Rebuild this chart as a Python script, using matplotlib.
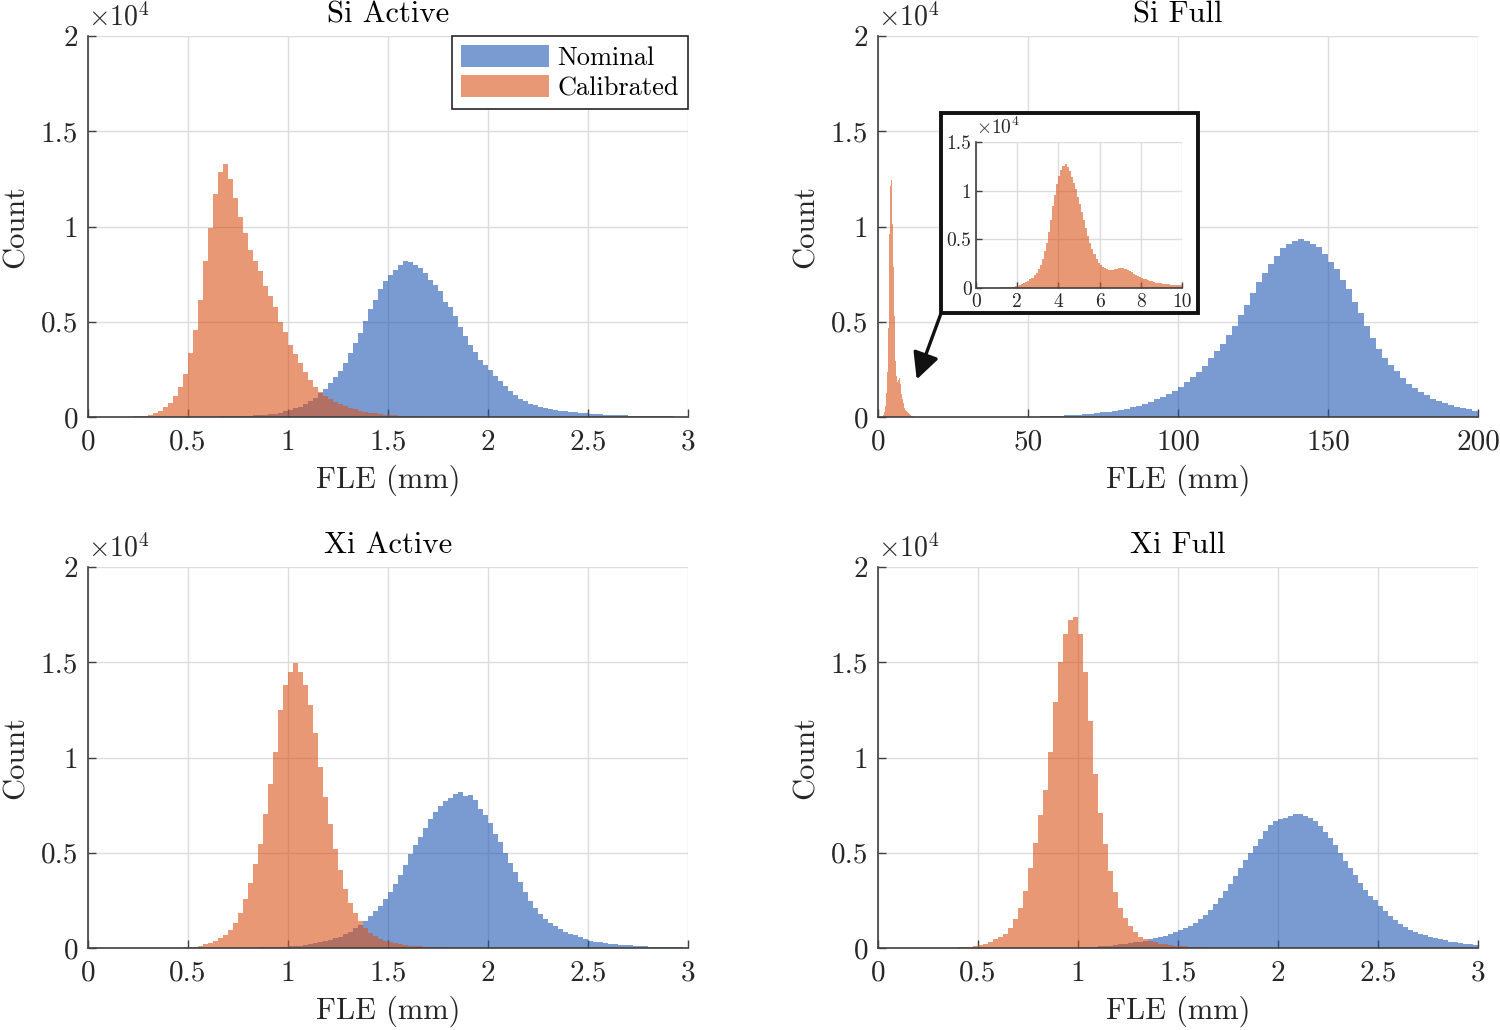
import numpy as np
import matplotlib
matplotlib.use("Agg")
import matplotlib.pyplot as plt
from matplotlib.ticker import FuncFormatter
from matplotlib.patches import Patch, Rectangle

plt.rcParams['font.family'] = ['cmr10', 'DejaVu Serif']
plt.rcParams['mathtext.fontset'] = 'cm'
plt.rcParams['axes.formatter.use_mathtext'] = True

# ---------------- data (bin counts) ----------------
titles = ["Si Active", "Si Full", "Xi Active", "Xi Full"]
legend_labels = ["Nominal", "Calibrated"]
x_label = "FLE (mm)"
y_label = "Count"

bin_w = 0.025

# Si Active
si_act_nom_start = 0.5
si_act_nom = [8, 10, 12, 15, 18, 22, 27, 32, 38, 44, 50, 58, 68, 80, 95, 115, 140, 175, 235, 300,
              370, 450, 550, 680, 830, 1020, 1250, 1460, 1800, 2120, 2400, 2850, 3350, 3880, 4420,
              5050, 5650, 6120, 6700, 7150, 7450, 7700, 8000, 8180, 8130, 8000, 7820, 7550, 7190,
              6950, 6600, 6050, 5750, 5300, 4700, 4250, 3790, 3400, 3000, 2750, 2450, 2130, 1900,
              1650, 1380, 1130, 960, 820, 700, 610, 530, 470, 420, 375, 340, 310, 280, 250, 220,
              190, 170, 155, 140, 125, 112, 100, 92, 85, 75, 68, 60, 54, 48, 42, 37, 33, 29, 25, 22, 19]
si_act_cal_start = 0.1
si_act_cal = [5, 8, 12, 18, 25, 35, 45, 60, 110, 200, 330, 520, 760, 1080, 1600, 2250, 3350, 4550,
              6150, 8200, 9900, 11700, 12850, 13300, 12500, 11500, 10500, 9650, 8750, 8200, 7650,
              6900, 6350, 5800, 5000, 4450, 3800, 3300, 2850, 2350, 1920, 1560, 1300, 1080, 930,
              790, 680, 580, 490, 410, 340, 280, 230, 190, 160, 130, 105, 85, 70, 55, 45, 35, 28,
              22, 17, 12, 9, 6]

# Xi Active
xi_act_nom_start = 0.8
xi_act_nom = [20, 25, 30, 36, 42, 48, 55, 65, 80, 100, 125, 160, 200, 245, 290, 350, 430, 510, 600,
              720, 860, 1040, 1200, 1420, 1680, 1950, 2220, 2570, 2950, 3360, 3830, 4380, 4950,
              5400, 5850, 6300, 6750, 7150, 7450, 7700, 7900, 8100, 8200, 8000, 8050, 7750, 7300,
              7000, 6550, 6000, 5550, 5000, 4450, 4000, 3450, 2950, 2450, 2080, 1780, 1540, 1320,
              1140, 990, 860, 750, 660, 570, 480, 390, 330, 290, 255, 225, 200, 180, 160, 140,
              120, 105, 90, 75, 62, 52, 45, 38, 32, 27, 22]
xi_act_cal_start = 0.4
xi_act_cal = [8, 14, 22, 30, 45, 70, 120, 190, 260, 360, 520, 700, 930, 1330, 1850, 2550, 3400,
              4400, 5450, 7050, 8600, 10300, 12500, 13800, 14500, 14950, 14500, 13800, 12750,
              11300, 9500, 7950, 6500, 5200, 4100, 3100, 2350, 1850, 1400, 1030, 800, 640, 490,
              390, 300, 240, 190, 155, 125, 100, 82, 68, 56, 46, 38, 32, 26, 20, 15, 10]

# Xi Full
xi_full_nom_start = 0.8
xi_full_nom = [5, 7, 9, 11, 13, 15, 18, 22, 28, 35, 45, 60, 80, 105, 130, 160, 190, 220, 255, 290,
               340, 390, 450, 510, 580, 650, 730, 820, 920, 1030, 1170, 1330, 1520, 1750, 2000,
               2300, 2630, 2980, 3380, 3800, 4180, 4600, 4980, 5380, 5730, 6120, 6450, 6660, 6780,
               6850, 6920, 7050, 7060, 6950, 6800, 6650, 6420, 6100, 5760, 5420, 4980, 4550, 4200,
               3830, 3430, 3020, 2750, 2510, 2220, 1950, 1680, 1450, 1270, 1100, 960, 840, 740,
               660, 590, 520, 460, 400, 340, 290, 240, 210, 185, 165]
xi_full_cal_start = 0.3
xi_full_cal = [5, 8, 12, 18, 28, 45, 70, 105, 160, 230, 330, 450, 580, 720, 1050, 1500, 2100, 3000,
               4200, 5500, 7000, 8300, 10300, 12900, 15000, 16500, 17200, 17350, 16500, 14500,
               11900, 9150, 7100, 5450, 4050, 2950, 2100, 1580, 1150, 850, 600, 450, 350, 290,
               235, 190, 160, 130, 105, 85, 70, 55, 42, 32, 24, 18, 14, 10]

# Si Full
si_full_nom_start = 40.0
si_full_nom_w = 2.0
si_full_nom = [5, 8, 10, 12, 15, 20, 25, 30, 40, 50, 65, 85, 105, 130, 155, 180, 215, 250, 280, 315,
               360, 420, 500, 580, 680, 800, 920, 1050, 1220, 1380, 1580, 1820, 2080, 2350, 2700,
               3080, 3450, 3850, 4300, 4800, 5350, 5900, 6500, 7100, 7550, 8050, 8450, 8850, 9100,
               9250, 9350, 9250, 9100, 8900, 8550, 8150, 7750, 7200, 6700, 6050, 5450, 4800, 4150,
               3550, 3100, 2750, 2400, 2050, 1750, 1500, 1300, 1130, 970, 840, 730, 640, 540, 460,
               410, 340]
si_full_cal_start = 0.8
si_full_cal_w = 0.1
si_full_cal = [10, 12, 15, 18, 22, 27, 33, 42, 55, 75, 105, 140, 190, 260, 340, 450, 580, 720, 880,
               1050, 1280, 1560, 1900, 2350, 3000, 3800, 4650, 5700, 7000, 8400, 9600, 10650,
               11500, 12100, 12550, 12750, 12450, 12000, 11450, 10850, 10150, 9400, 8650, 7850,
               7000, 6150, 5300, 4600, 4000, 3450, 2950, 2550, 2300, 2150, 2000, 1880, 1820, 1800,
               1830, 1880, 1950, 2000, 2050, 2060, 1980, 1850, 1720, 1580, 1460, 1340, 1220, 1120,
               1030, 940, 860, 790, 720, 650, 590, 530, 480, 440, 410, 380, 360, 340, 320, 300,
               285, 270, 255, 240, 220, 200, 180, 160, 145, 130, 115, 100, 90, 80, 70, 60, 50, 40,
               35, 28, 22, 18, 14, 10]

x_ticks_mm = [0, 0.5, 1, 1.5, 2, 2.5, 3]
x_ticks_full = [0, 50, 100, 150, 200]
x_ticks_inset = [0, 2, 4, 6, 8, 10]
y_ticks = [0, 5000, 10000, 15000, 20000]
y_ticks_inset = [0, 5000, 10000, 15000]

# ---------------- styling ----------------
BLUE = (0.13, 0.345, 0.705)
ORANGE = (0.85, 0.325, 0.098)
ALPHA = 0.6
GRID = '#dcdcdc'
AXC = '#404040'
TXT = '#262626'

fig = plt.figure(figsize=(15, 10.3), dpi=100)
W, H = 1500.0, 1030.0


def add_axes(px_left, px_top, px_w, px_h):
    return fig.add_axes([px_left / W, 1 - (px_top + px_h) / H, px_w / W, px_h / H])


def hist(ax, start, width, counts, color):
    counts = np.asarray(counts, dtype=float)
    edges = start + width * np.arange(len(counts) + 1)
    ax.stairs(counts, edges, fill=True, color=color, alpha=ALPHA, linewidth=0, baseline=0)


yfmt = FuncFormatter(lambda v, p: f"{v / 1e4:g}")


def style(ax, xlim, xticks, yticks, ylim, fs=21, tick_len=6, pad_x=9, pad_y=7, expo_fs=20):
    ax.set_xlim(*xlim)
    ax.set_ylim(*ylim)
    ax.set_xticks(xticks)
    ax.set_yticks(yticks)
    ax.xaxis.set_major_formatter(FuncFormatter(lambda v, p: f"{v:g}"))
    ax.yaxis.set_major_formatter(yfmt)
    ax.grid(True, color=GRID, linewidth=1.0)
    ax.set_axisbelow(True)
    for s in ['top', 'right']:
        ax.spines[s].set_visible(False)
    for s in ['left', 'bottom']:
        ax.spines[s].set_color(AXC)
        ax.spines[s].set_linewidth(1.2)
    ax.tick_params(direction='in', length=tick_len, width=1.0, color=AXC,
                   labelcolor=TXT, labelsize=fs)
    ax.tick_params(axis='x', pad=pad_x)
    ax.tick_params(axis='y', pad=pad_y)
    ax.annotate(r'$\times10^{4}$', xy=(0, 1), xycoords='axes fraction',
                xytext=(0, 3), textcoords='offset points', ha='left', va='bottom',
                fontsize=expo_fs, color=TXT)


def labels(ax, title):
    ax.set_title(title, fontsize=22, pad=10, color='black')
    ax.set_xlabel(x_label, fontsize=22, labelpad=6, color=TXT)
    ax.set_ylabel(y_label, fontsize=22, labelpad=8, color=TXT)


# Si Active
ax1 = add_axes(88, 36, 600, 381)
hist(ax1, si_act_nom_start, bin_w, si_act_nom, BLUE)
hist(ax1, si_act_cal_start, bin_w, si_act_cal, ORANGE)
style(ax1, (0, 3), x_ticks_mm, y_ticks, (0, 20000))
labels(ax1, titles[0])
handles = [Patch(facecolor=BLUE, alpha=ALPHA, linewidth=0),
           Patch(facecolor=ORANGE, alpha=ALPHA, linewidth=0)]
leg = ax1.legend(handles, legend_labels, loc='upper right', borderaxespad=0, fancybox=False,
                 edgecolor=TXT, framealpha=1, fontsize=19, handlelength=3.33, handleheight=0.87,
                 borderpad=0.35, labelspacing=0.2, handletextpad=0.3)
leg.get_frame().set_linewidth(1.2)

# Si Full
ax2 = add_axes(878, 36, 600, 381)
hist(ax2, si_full_nom_start, si_full_nom_w, si_full_nom, BLUE)
hist(ax2, si_full_cal_start, si_full_cal_w, si_full_cal, ORANGE)
style(ax2, (0, 200), x_ticks_full, y_ticks, (0, 20000))
labels(ax2, titles[1])
# inset frame and arrow
ax2.add_patch(Rectangle((21.0, 5440), 85.8, 10540, facecolor='white', edgecolor='#111111',
                        linewidth=2.8, zorder=5, clip_on=False))
ax2.annotate('', xy=(12.9, 1970), xytext=(21.0, 5440),
             arrowprops=dict(arrowstyle='-|>', color='#111111', lw=2.4, mutation_scale=40,
                             shrinkA=0, shrinkB=0), zorder=6)

# inset
axi = add_axes(975.7, 142.3, 206.6, 145.4)
axi.set_zorder(3)
hist(axi, si_full_cal_start, si_full_cal_w, si_full_cal, ORANGE)
style(axi, (0, 10), x_ticks_inset, y_ticks_inset, (0, 15000), fs=14, tick_len=4,
      pad_x=4, pad_y=3, expo_fs=14)

# Xi Active
ax3 = add_axes(88, 567, 600, 381)
hist(ax3, xi_act_nom_start, bin_w, xi_act_nom, BLUE)
hist(ax3, xi_act_cal_start, bin_w, xi_act_cal, ORANGE)
style(ax3, (0, 3), x_ticks_mm, y_ticks, (0, 20000))
labels(ax3, titles[2])

# Xi Full
ax4 = add_axes(878, 567, 600, 381)
hist(ax4, xi_full_nom_start, bin_w, xi_full_nom, BLUE)
hist(ax4, xi_full_cal_start, bin_w, xi_full_cal, ORANGE)
style(ax4, (0, 3), x_ticks_mm, y_ticks, (0, 20000))
labels(ax4, titles[3])

fig.savefig("out.png", dpi=100, facecolor='white')
